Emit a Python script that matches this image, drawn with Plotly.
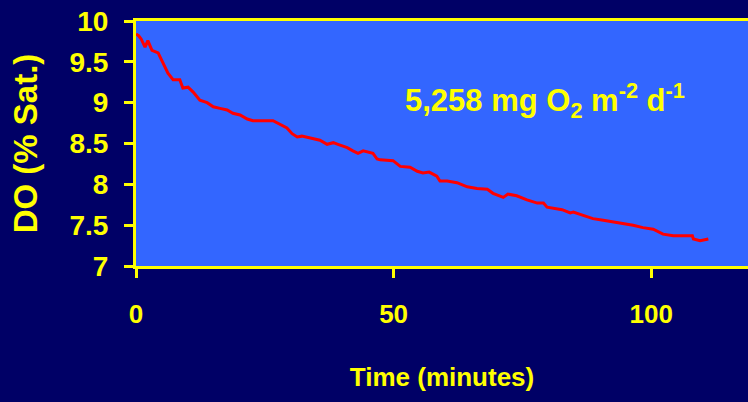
import plotly.graph_objects as go

time_min = [0, 0.5, 1.0, 1.75, 2.3, 3.1, 4.3, 5.2, 6.2, 7.2, 8.5, 9.1, 10.1, 11.1, 12.4, 13.8, 15, 16.3,
            17.7, 18.8, 20.2, 21.6, 22.7, 26.6, 28, 29.3, 30.3, 31.3, 32.2, 33.8, 35.7, 37.1, 38.3, 39.2,
            41, 42.1, 43.1, 44.1, 46, 46.8, 47.4, 49.9, 51.3, 53.2, 54.6, 55.7, 56.9, 58.4, 59, 60.4,
            62.3, 64.3, 66.2, 68.2, 69.3, 71.3, 72.2, 73.9, 75.9, 77.9, 79.1, 79.8, 81, 82.7, 84.3,
            84.9, 86.8, 88.7, 90.7, 92.6, 94, 96.5, 98.4, 100.4, 102.3, 104.3, 106.2, 108, 108.2,
            109.5, 111.1]
do_sat = [9.84, 9.82, 9.78, 9.68, 9.76, 9.64, 9.61, 9.5, 9.36, 9.28, 9.28, 9.18, 9.19, 9.13, 9.03, 9.0,
          8.95, 8.93, 8.91, 8.87, 8.85, 8.80, 8.78, 8.78, 8.73, 8.69, 8.62, 8.58, 8.59, 8.57, 8.54, 8.49,
          8.51, 8.49, 8.45, 8.41, 8.38, 8.41, 8.38, 8.31, 8.30, 8.29, 8.22, 8.21, 8.16, 8.14, 8.15, 8.10,
          8.04, 8.04, 8.02, 7.97, 7.95, 7.94, 7.89, 7.84, 7.88, 7.86, 7.81, 7.77, 7.77, 7.72, 7.71, 7.69,
          7.65, 7.66, 7.62, 7.58, 7.56, 7.54, 7.52, 7.50, 7.47, 7.45, 7.39, 7.37, 7.37, 7.37, 7.33, 7.31,
          7.33]

x_ticks = [0, 50, 100]
y_ticks = [7, 7.5, 8, 8.5, 9, 9.5, 10]
y_tick_labels = ["7", "7.5", "8", "8.5", "9", "9.5", "10"]
rate_label = "5,258 mg O<sub>2</sub> m<sup>-2</sup> d<sup>-1</sup>"

YELLOW = "#FFFF00"
NAVY = "#000066"
BLUE = "#3366FF"
BOLD = "Liberation Sans, Arial, sans-serif"

fig = go.Figure()
fig.add_trace(go.Scatter(x=time_min, y=do_sat, mode="lines",
                         line=dict(color="#FF0000", width=3), showlegend=False, hoverinfo="skip"))

fig.add_annotation(x=79.4, y=9.03, xref="x", yref="y", text="<b>" + rate_label + "</b>",
                   showarrow=False, font=dict(family=BOLD, size=31, color=YELLOW))

fig.update_layout(
    width=748, height=402,
    margin=dict(l=136, r=0, t=21, b=136),
    paper_bgcolor=NAVY, plot_bgcolor=BLUE,
    xaxis=dict(range=[0, 118.8], tickvals=x_ticks, ticktext=["<b>%d</b>" % v for v in x_ticks],
               showgrid=False, zeroline=False, showline=True, linecolor=YELLOW, linewidth=3,
               mirror=True, ticks="outside", tickcolor=YELLOW, tickwidth=3, ticklen=9,
               ticklabelstandoff=14,
               tickfont=dict(family=BOLD, size=26, color=YELLOW),
               title=dict(text="<b>Time (minutes)</b>", standoff=40,
                          font=dict(family=BOLD, size=26, color=YELLOW))),
    yaxis=dict(range=[7, 10], tickvals=y_ticks, ticktext=["<b>%s</b>" % t for t in y_tick_labels],
               showgrid=False, zeroline=False, showline=True, linecolor=YELLOW, linewidth=3,
               mirror=False, ticks="outside", tickcolor=YELLOW, tickwidth=3, ticklen=9,
               ticklabelstandoff=10,
               tickfont=dict(family=BOLD, size=28, color=YELLOW),
               title=dict(text="<b>DO (% Sat.)</b>", standoff=22,
                          font=dict(family=BOLD, size=33, color=YELLOW))),
)

fig.write_html("out.html", config={"displayModeBar": False},
               post_script="document.body.style.margin='0';document.body.style.overflow='hidden';")
